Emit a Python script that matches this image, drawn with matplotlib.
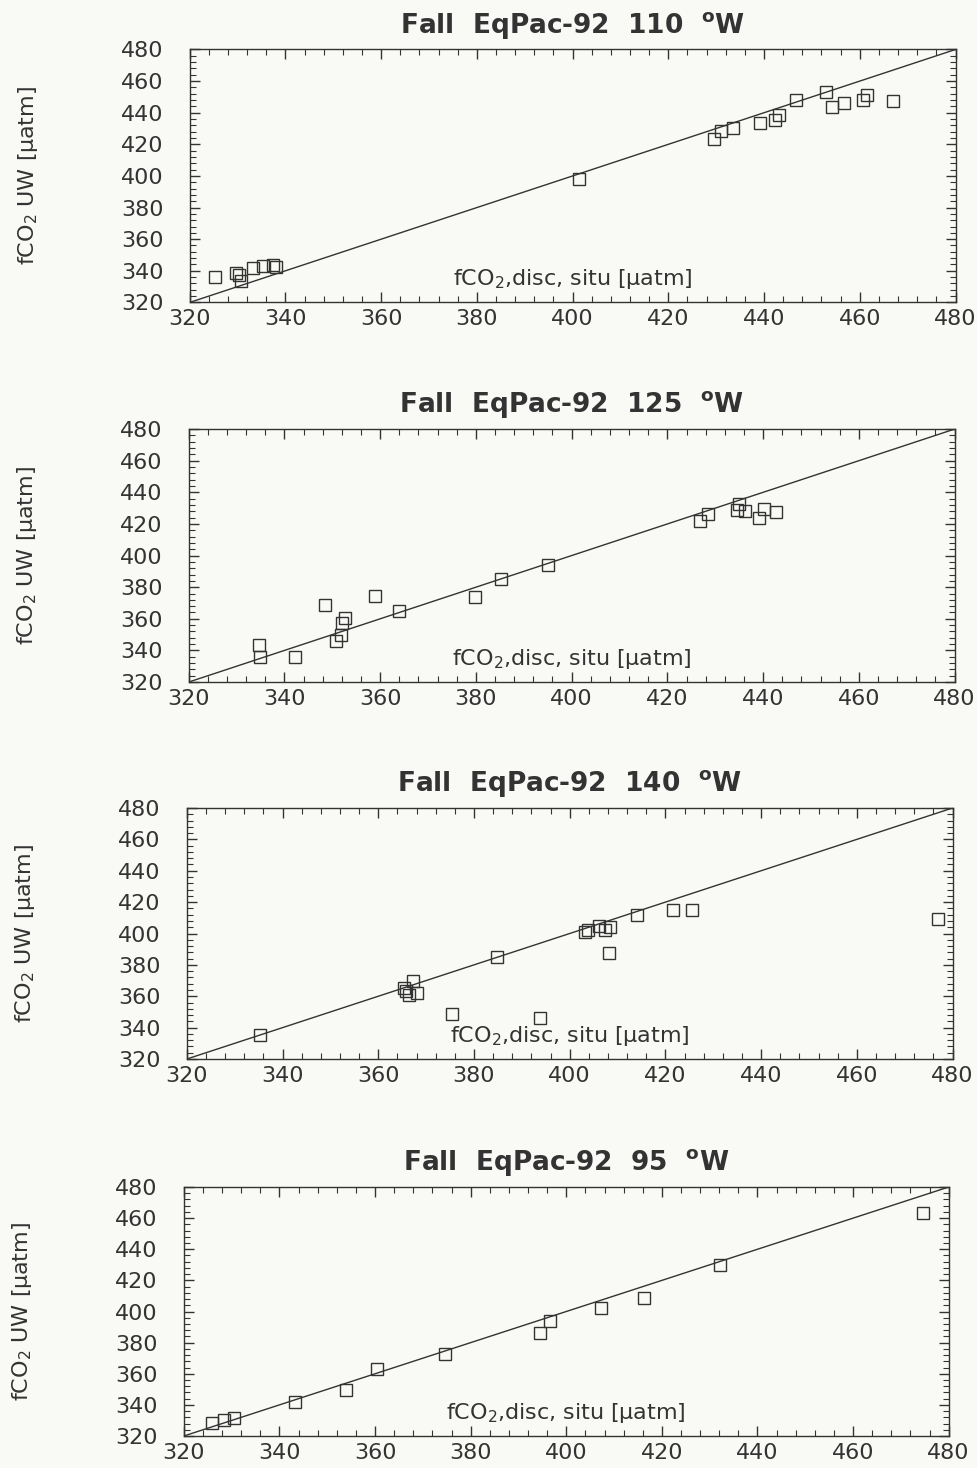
import matplotlib
matplotlib.use("Agg")
import matplotlib.pyplot as plt
from matplotlib.ticker import MultipleLocator

plt.rcParams['font.family'] = ['DejaVu Sans']
plt.rcParams['mathtext.default'] = 'regular'

# fCO2 disc (x) vs fCO2 underway (y), per longitude
x_110 = [325.3, 329.6, 330.7, 330.2, 333.3, 335.3, 337.4, 338.0, 401.4, 429.5, 431.1, 433.5,
         439.1, 442.2, 443.2, 446.6, 452.9, 454.2, 456.6, 460.7, 461.6, 466.9]
y_110 = [336.3, 338.4, 333.7, 337.5, 341.6, 342.8, 343.7, 342.5, 398.2, 423.6, 428.5, 430.4,
         433.5, 435.6, 438.8, 448.3, 453.0, 443.7, 446.4, 448.3, 451.1, 447.7]

x_125 = [334.7, 334.9, 342.2, 348.5, 350.8, 351.8, 352.0, 352.7, 358.9, 363.9, 379.9, 385.2,
         395.0, 426.8, 428.5, 434.9, 434.6, 436.3, 439.1, 440.2, 442.6]
y_125 = [343.3, 335.9, 335.9, 369.0, 345.8, 349.6, 357.4, 360.2, 374.3, 365.0, 373.9, 384.9,
         394.2, 421.9, 426.1, 432.5, 428.9, 428.3, 423.6, 429.7, 427.4]

x_140 = [335.3, 365.4, 365.9, 366.5, 367.2, 368.2, 375.4, 384.9, 393.9, 403.3, 403.9, 406.1,
         407.4, 408.5, 408.3, 414.1, 421.6, 425.6, 477.0]
y_140 = [335.3, 365.5, 363.4, 360.9, 369.8, 362.3, 348.5, 385.1, 346.2, 400.9, 402.0, 404.7,
         402.0, 404.1, 387.7, 411.7, 414.9, 414.9, 409.1]

x_95 = [325.9, 328.3, 330.5, 343.3, 354.0, 360.4, 374.6, 394.5, 396.5, 407.2, 416.3, 432.1, 474.6]
y_95 = [328.6, 330.1, 331.8, 341.6, 349.5, 363.0, 372.8, 386.5, 393.8, 402.4, 408.6, 430.2, 463.5]

titles = ["Fall  EqPac-92  110  $^o$W",
          "Fall  EqPac-92  125  $^o$W",
          "Fall  EqPac-92  140  $^o$W",
          "Fall  EqPac-92  95  $^o$W"]
xs = [x_110, x_125, x_140, x_95]
ys = [y_110, y_125, y_140, y_95]

ink = '#333333'
bg = '#f9f9f6'

fig = plt.figure(figsize=(9.78, 14.68), dpi=100, facecolor=bg)

# axes boxes (left, bottom, width, height) in figure fractions
boxes = [(0.194, 0.794, 0.783, 0.1723),
         (0.193, 0.5354, 0.783, 0.1723),
         (0.191, 0.2786, 0.783, 0.171),
         (0.188, 0.0218, 0.782, 0.1696)]

for box, title, x, y in zip(boxes, titles, xs, ys):
    ax = fig.add_axes(box)
    ax.set_facecolor(bg)
    ax.plot([320, 480], [320, 480], color=ink, lw=1.0)
    ax.plot(x, y, linestyle='none', marker='s', markersize=8,
            markerfacecolor='none', markeredgecolor=ink, markeredgewidth=1.0)
    ax.set_xlim(320, 480)
    ax.set_ylim(320, 480)
    ax.xaxis.set_major_locator(MultipleLocator(20))
    ax.xaxis.set_minor_locator(MultipleLocator(4))
    ax.yaxis.set_major_locator(MultipleLocator(20))
    ax.yaxis.set_minor_locator(MultipleLocator(4))
    ax.tick_params(which='both', direction='in', top=True, right=True,
                   colors=ink, labelcolor=ink, labelsize=16)
    ax.tick_params(which='major', length=7, width=1.0)
    ax.tick_params(which='minor', length=4, width=0.8)
    ax.tick_params(axis='y', which='major', pad=19)
    ax.tick_params(axis='x', which='major', pad=5)
    for s in ax.spines.values():
        s.set_color(ink)
        s.set_linewidth(1.0)
    ax.set_title(title, fontsize=19, fontweight='bold', color=ink, pad=12)
    ax.set_ylabel("fCO$_2$ UW [\u00b5atm]", fontsize=16, color=ink)
    ax.yaxis.set_label_coords(-0.211, 0.5)
    ax.yaxis.label.set_va('center')
    ax.text(400, 331, "fCO$_2$,disc, situ [\u00b5atm]", fontsize=16,
            color=ink, ha='center', va='baseline')

fig.savefig("out.png", dpi=100, facecolor=bg)
